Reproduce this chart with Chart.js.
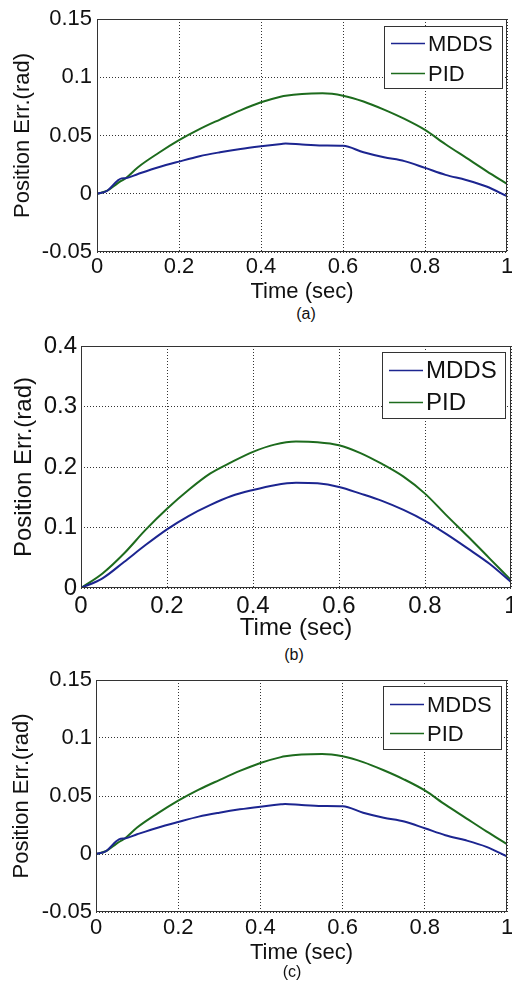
<!DOCTYPE html>
<html>
<head>
<meta charset="utf-8">
<script src="https://cdn.jsdelivr.net/npm/chart.js@4.4.1/dist/chart.umd.min.js"></script>
<style>
    body { margin: 0; background: #fff; width: 512px; height: 985px; overflow: hidden; position: relative; font-family: "Liberation Sans", Arial, sans-serif; }
    canvas { position: absolute; left: 0; }
    .cap { position: absolute; font-size: 16px; color: #111; transform: translate(-50%, -50%); }
</style>
</head>
<body>
<canvas id="chartA" width="512" height="305" style="top:0px"></canvas>
<div class="cap" style="left:306px;top:314px">(a)</div>
<canvas id="chartB" width="512" height="322" style="top:322px"></canvas>
<div class="cap" style="left:294px;top:655px">(b)</div>
<canvas id="chartC" width="512" height="311" style="top:655px"></canvas>
<div class="cap" style="left:292px;top:972px">(c)</div>

<script>
// Data
var seriesNames = ['MDDS', 'PID'];
var xTicks = [0, 0.2, 0.4, 0.6, 0.8, 1];

// panels (a) and (c) show the same run
var timeA = [0, 0.025, 0.05, 0.06, 0.07, 0.1, 0.15, 0.2, 0.25, 0.3, 0.35, 0.4, 0.45, 0.46, 0.5, 0.55, 0.6, 0.65, 0.7, 0.75, 0.8, 0.85, 0.9, 0.95, 1];
var mddsA = [0, 0.0026, 0.0112, 0.0132, 0.0134, 0.0170, 0.0227, 0.0276, 0.0322, 0.0356, 0.0385, 0.0408, 0.0428, 0.0432, 0.0422, 0.0414, 0.0412, 0.0356, 0.0313, 0.0280, 0.0222, 0.0162, 0.0118, 0.0062, -0.0020];
var pidA  = [0, 0.0026, 0.0089, 0.0112, 0.0133, 0.0228, 0.0350, 0.0460, 0.0555, 0.0637, 0.0716, 0.0785, 0.0835, 0.0842, 0.0857, 0.0862, 0.0842, 0.0792, 0.0722, 0.0642, 0.0548, 0.0425, 0.0310, 0.0195, 0.0085];
var yTicksA = [-0.05, 0, 0.05, 0.1, 0.15];

var timeB = [0, 0.05, 0.1, 0.15, 0.2, 0.25, 0.3, 0.35, 0.4, 0.45, 0.5, 0.55, 0.6, 0.65, 0.7, 0.75, 0.8, 0.85, 0.9, 0.95, 1];
var mddsB = [0, 0.016, 0.043, 0.071, 0.097, 0.119, 0.137, 0.152, 0.162, 0.170, 0.174, 0.173, 0.167, 0.156, 0.144, 0.129, 0.111, 0.089, 0.065, 0.040, 0.010];
var pidB  = [0, 0.024, 0.057, 0.096, 0.131, 0.162, 0.189, 0.208, 0.225, 0.237, 0.242, 0.241, 0.236, 0.223, 0.205, 0.184, 0.156, 0.120, 0.085, 0.049, 0.013];
var yTicksB = [0, 0.1, 0.2, 0.3, 0.4];

var colors = ['#1c2590', '#1d6b1d'];
var fontFamily = '"Liberation Sans", Arial, sans-serif';

function toPoints(xs, ys) {
    return xs.map(function (x, i) { return { x: x, y: ys[i] }; });
}

// frame round the plot and the legend box inside it
var framePlugin = {
    id: 'matlabFrame',
    afterDraw: function (chart, args, opts) {
        var ctx = chart.ctx, a = chart.chartArea;
        ctx.save();
        ctx.strokeStyle = '#333';
        ctx.lineWidth = 1;
        ctx.strokeRect(a.left + 0.5, a.top + 0.5, a.right - a.left - 1, a.bottom - a.top - 1);

        var bx = a.right - opts.dx - opts.w, by = a.top + opts.dy;
        ctx.fillStyle = '#fff';
        ctx.fillRect(bx, by, opts.w, opts.h);
        ctx.strokeStyle = '#333';
        ctx.strokeRect(bx + 0.5, by + 0.5, opts.w, opts.h);
        ctx.font = opts.font + 'px ' + fontFamily;
        ctx.textBaseline = 'middle';
        var rows = [0.28, 0.75];
        chart.data.datasets.forEach(function (ds, i) {
            var y = Math.round(by + opts.h * rows[i]) + 0.5;
            ctx.strokeStyle = ds.borderColor;
            ctx.lineWidth = 1.5;
            ctx.beginPath();
            ctx.moveTo(bx + 7, y);
            ctx.lineTo(bx + 41, y);
            ctx.stroke();
            ctx.fillStyle = '#111';
            ctx.fillText(ds.label, bx + 44, y + 1);
        });
        ctx.restore();
    }
};

function makePanel(id, time, mdds, pid, yTicks, g) {
    var fmt = function (v) { return String(Math.round(v * 100) / 100); };
    new Chart(document.getElementById(id), {
        type: 'line',
        data: {
            datasets: [
                { label: seriesNames[0], data: toPoints(time, mdds), borderColor: colors[0], borderWidth: 2, pointRadius: 0, cubicInterpolationMode: 'monotone' },
                { label: seriesNames[1], data: toPoints(time, pid), borderColor: colors[1], borderWidth: 2, pointRadius: 0, cubicInterpolationMode: 'monotone' }
            ]
        },
        options: {
            responsive: false,
            animation: false,
            layout: { padding: g.pad },
            plugins: {
                legend: { display: false },
                tooltip: { enabled: false },
                matlabFrame: g.legend
            },
            scales: {
                x: {
                    type: 'linear', min: 0, max: 1,
                    afterBuildTicks: function (s) { s.ticks = xTicks.map(function (v) { return { value: v }; }); },
                    afterFit: function (s) { s.height = g.xh; s.paddingLeft = 0; s.paddingRight = 0; },
                    ticks: { color: '#111', padding: g.xpad, maxRotation: 0, autoSkip: false, font: { family: fontFamily, size: g.font }, callback: fmt },
                    grid: { color: '#333', lineWidth: 1, drawTicks: false },
                    border: { display: false, dash: [1, 2] },
                    title: { display: true, text: 'Time (sec)', color: '#111', padding: 0, font: { family: fontFamily, size: g.font } }
                },
                y: {
                    min: yTicks[0], max: yTicks[yTicks.length - 1],
                    afterBuildTicks: function (s) { s.ticks = yTicks.map(function (v) { return { value: v }; }); },
                    afterFit: function (s) { s.width = g.yw; s.paddingTop = 0; s.paddingBottom = 0; },
                    ticks: { color: '#111', padding: g.ypad, font: { family: fontFamily, size: g.font }, callback: fmt },
                    grid: { color: '#333', lineWidth: 1, drawTicks: false },
                    border: { display: false, dash: [1, 2] },
                    title: { display: true, text: 'Position Err.(rad)', color: '#111', padding: 0, font: { family: fontFamily, size: g.font } }
                }
            }
        },
        plugins: [framePlugin]
    });
}

makePanel('chartA', timeA, mddsA, pidA, yTicksA, {
    pad: { left: 10, top: 19, right: 5, bottom: 0 }, yw: 87, xh: 53, xpad: 2, ypad: 5, font: 22,
    legend: { dx: 5, dy: 7, w: 118, h: 62, font: 22 }
});
makePanel('chartB', timeB, mddsB, pidB, yTicksB, {
    pad: { left: 10, top: 24, right: 1, bottom: 1 }, yw: 71, xh: 55, xpad: 4, ypad: 4, font: 24,
    legend: { dx: 6, dy: 6, w: 123, h: 66, font: 24 }
});
makePanel('chartC', timeA, mddsA, pidA, yTicksA, {
    pad: { left: 9, top: 25, right: 5, bottom: 0 }, yw: 87, xh: 54, xpad: 3, ypad: 4, font: 22,
    legend: { dx: 6, dy: 6, w: 118, h: 63, font: 22 }
});
</script>
</body>
</html>
